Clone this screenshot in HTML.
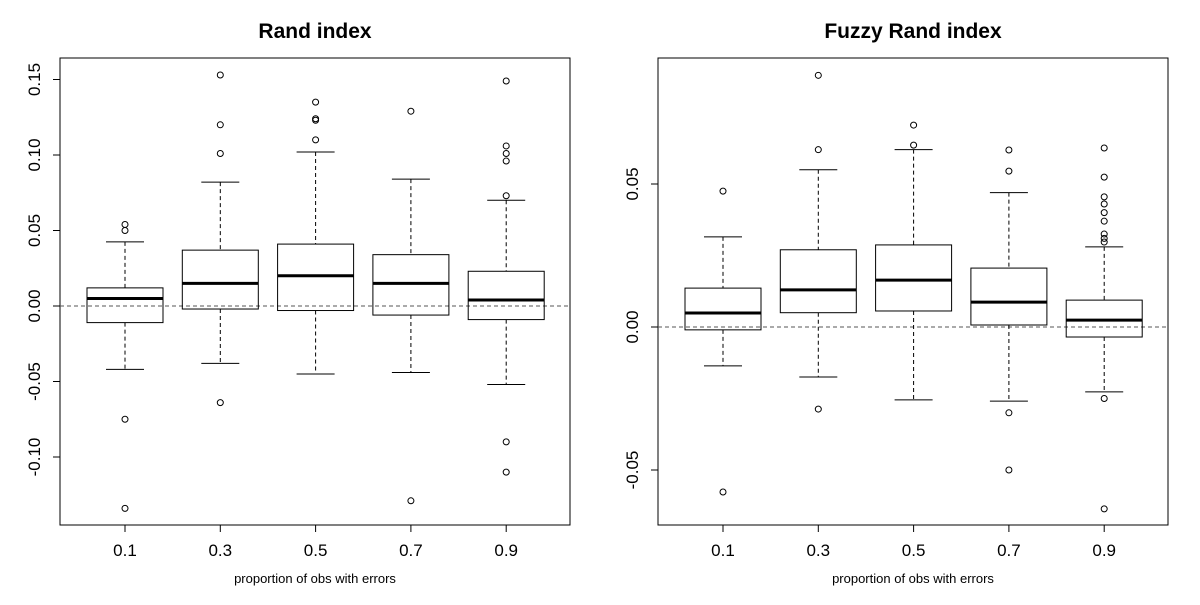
<!DOCTYPE html>
<html><head><meta charset="utf-8"><style>
body{margin:0;background:#fff}
svg{font-family:"Liberation Sans",Arial,sans-serif}
</style></head><body>
<svg id="s" width="1200" height="600" xmlns="http://www.w3.org/2000/svg"></svg>
<script>
const categories=["0.1","0.3","0.5","0.7","0.9"];
// [lowerWhisker, Q1, median, Q3, upperWhisker]
const randStats=[[-0.042,-0.011,0.005,0.012,0.0425],[-0.038,-0.002,0.015,0.037,0.082],[-0.045,-0.003,0.020,0.041,0.102],[-0.044,-0.006,0.015,0.034,0.084],[-0.052,-0.009,0.004,0.023,0.070]];
const randOut=[[0.054,0.050,-0.075,-0.134],[0.153,0.120,0.101,-0.064],[0.135,0.124,0.123,0.110],[0.129,-0.129],[0.149,0.106,0.101,0.096,0.073,-0.090,-0.110]];
const fuzzyStats=[[-0.0136,-0.001,0.0049,0.0136,0.0315],[-0.0175,0.005,0.013,0.027,0.055],[-0.0255,0.0056,0.0164,0.0287,0.062],[-0.0259,0.0007,0.0087,0.0206,0.047],[-0.0227,-0.0035,0.0024,0.0094,0.028]];
const fuzzyOut=[[0.0475,-0.0577],[0.088,0.062,-0.0287],[0.0706,0.0636],[0.0619,0.0545,-0.030,-0.050],[0.0626,0.0524,0.0455,0.043,0.040,0.037,0.0325,0.031,0.0297,-0.025,-0.0636]];
const randTicks=[-0.10,-0.05,0.00,0.05,0.10,0.15];
const fuzzyTicks=[-0.05,0.00,0.05];
const NS="http://www.w3.org/2000/svg";
const svg=document.getElementById("s");
function mk(t,a,p){const e=document.createElementNS(NS,t);for(const k in a)e.setAttribute(k,a[k]);(p||svg).appendChild(e);return e;}
function panel(name,title,x0,x1,y0,y1,v0,v0y,perUnit,stats,outs,ticks,fmt,firstX,step){
  const g=mk("g",{});
  
  
  const y=v=>v0y-(v-v0)*perUnit;
  const xs=i=>firstX+i*step;
  const r=mk("rect",{x:x0,y:y0,width:x1-x0,height:y1-y0,fill:"none",stroke:"#000"},g);
  
  const t=mk("text",{x:(x0+x1)/2,y:38,"text-anchor":"middle","font-size":"21","font-weight":"bold"},g);
  t.textContent=title;
  const zl=mk("line",{x1:x0,x2:x1,y1:y(0),y2:y(0),stroke:"#555","stroke-dasharray":"4,3"},g);
  
  ticks.forEach(v=>{
    mk("line",{x1:x0-7,x2:x0,y1:y(v),y2:y(v),stroke:"#000"},g);
    const tx=mk("text",{x:0,y:0,"text-anchor":"middle","font-size":"17",transform:`translate(${x0-20},${y(v)}) rotate(-90)`},g);
    tx.textContent=fmt(v);
  });
  categories.forEach((c,i)=>{
    const cx=xs(i);
    mk("line",{x1:cx,x2:cx,y1:y1,y2:y1+7,stroke:"#000"},g);
    const tx=mk("text",{x:cx,y:y1+31,"text-anchor":"middle","font-size":"17"},g);
    tx.textContent=c;
    const s=stats[i];const bw=38,cw=19;
    const bg=mk("g",{},g);
    mk("line",{x1:cx,x2:cx,y1:y(s[4]),y2:y(s[3]),stroke:"#000","stroke-dasharray":"4,3"},bg);
    mk("line",{x1:cx,x2:cx,y1:y(s[1]),y2:y(s[0]),stroke:"#000","stroke-dasharray":"4,3"},bg);
    mk("line",{x1:cx-cw,x2:cx+cw,y1:y(s[4]),y2:y(s[4]),stroke:"#000"},bg);
    mk("line",{x1:cx-cw,x2:cx+cw,y1:y(s[0]),y2:y(s[0]),stroke:"#000"},bg);
    mk("rect",{x:cx-bw,y:y(s[3]),width:2*bw,height:y(s[1])-y(s[3]),fill:"none",stroke:"#000"},bg);
    mk("line",{x1:cx-bw,x2:cx+bw,y1:y(s[2]),y2:y(s[2]),stroke:"#000","stroke-width":3},bg);
    outs[i].forEach(o=>{const p=mk("circle",{cx:cx,cy:y(o),r:3,fill:"none",stroke:"#000"},bg);
      });
  });
  const xl=mk("text",{x:(x0+x1)/2,y:583,"text-anchor":"middle","font-size":"13"},g);
  xl.textContent="proportion of obs with errors";
}
panel("rand","Rand index",60,570,58,525,0,306,1510,randStats,randOut,randTicks,v=>v.toFixed(2),125,95.3);
panel("fuzzy","Fuzzy Rand index",658,1168,58,525,0,327,2860,fuzzyStats,fuzzyOut,fuzzyTicks,v=>v.toFixed(2),723,95.3);
</script>
</body></html>
